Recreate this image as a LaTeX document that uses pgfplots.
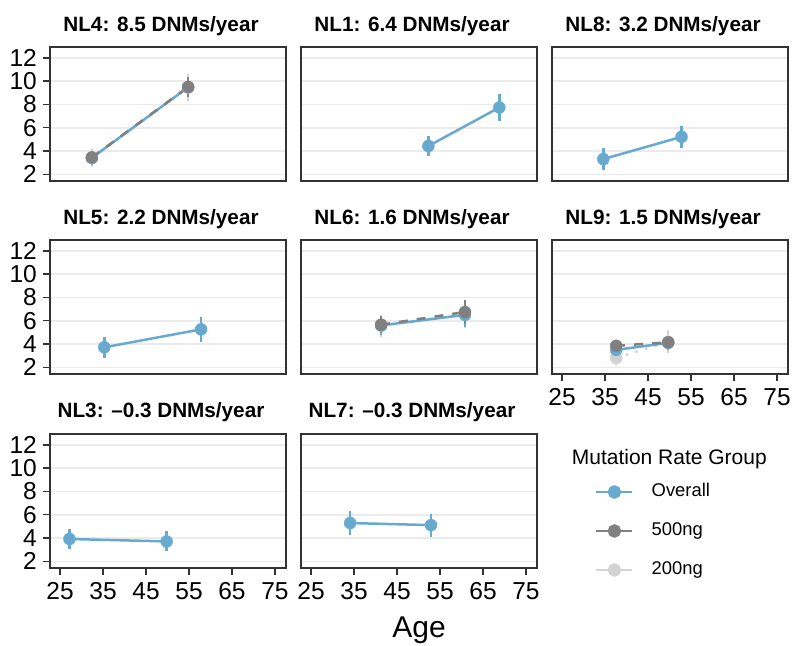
\documentclass[border=0pt]{standalone}
\usepackage{pgfplots}
\pgfplotsset{compat=1.18}
\usepackage{fontspec}
\setmainfont{Liberation Sans}
\definecolor{ovc}{RGB}{103,169,207}
\definecolor{g5}{RGB}{128,128,128}
\definecolor{g2}{RGB}{211,211,211}
\definecolor{frame}{RGB}{51,51,51}
\definecolor{gridc}{RGB}{235,235,235}
\pgfplotsset{
  panel/.style={scale only axis, width=236pt, height=134pt,
    xmin=22.67, xmax=77.56, ymin=1.43, ymax=12.93,
    axis line style={draw=frame, line width=1.5pt},
    xtick=\empty, ytick={2,4,6,8,10,12}, yticklabels={},
    ymajorgrids, grid style={draw=gridc, line width=1.6pt},
    ytick style={draw=none},
    xtick pos=bottom, ytick pos=left,
    major tick length=7pt, tick align=outside,
    tick label style={font=\fontsize{24.5}{28}\selectfont, inner sep=0pt},
    /pgf/number format/assume math mode=true,
    clip=false},
  showy/.style={yticklabels={2,4,6,8,10,12}, ytick style={draw=frame, line width=1.4pt},
    yticklabel style={xshift=-6pt}},
  showx/.style={xtick={25,35,45,55,65,75}, xtick style={draw=frame, line width=1.4pt},
    xticklabel style={yshift=-7pt}},
  ovl/.style={color=ovc, line width=2.5pt, no marks},
  g5l/.style={color=g5, line width=2.5pt, no marks, dash pattern=on 9pt off 9pt},
  g2l/.style={color=g2, line width=2.5pt, no marks, dash pattern=on 2.5pt off 7.5pt},
  ovp/.style={only marks, mark=*, mark size=6pt, color=ovc,
    error bars/y dir=both, error bars/y explicit, error bars/error mark=none,
    error bars/error bar style={line width=2.5pt, color=ovc}},
  g5p/.style={only marks, mark=*, mark size=6pt, color=g5,
    error bars/y dir=both, error bars/y explicit, error bars/error mark=none,
    error bars/error bar style={line width=2.5pt, color=g5}},
  g2p/.style={only marks, mark=*, mark size=6pt, color=g2,
    error bars/y dir=both, error bars/y explicit, error bars/error mark=none,
    error bars/error bar style={line width=2.5pt, color=g2}},
}
\newcommand{\ftitle}[3]{\node[anchor=base, font=\bfseries\fontsize{20.7}{24}\selectfont] at (#1pt,#2pt) {#3};}
\begin{document}
\begin{tikzpicture}
\path[use as bounding box] (0,0) rectangle (794pt,645pt);
% Row 1
\begin{axis}[panel, showy, at={(50pt,464pt)}, anchor=south west]
\addplot[g2l] coordinates {(32.4,3.40) (54.8,9.45)};
\addplot[ovl] coordinates {(32.4,3.42) (54.8,9.47)};
\addplot[g5l] coordinates {(32.4,3.45) (54.8,9.50)};
\addplot[g2p] coordinates {(32.4,3.40) +- (0,0.80) (54.8,9.45) +- (0,1.12)};
\addplot[ovp] coordinates {(32.4,3.42) +- (0,0.60) (54.8,9.47) +- (0,0.80)};
\addplot[g5p] coordinates {(32.4,3.45) +- (0,0.55) (54.8,9.50) +- (0,0.85)};
\end{axis}
\begin{axis}[panel, at={(301pt,464pt)}, anchor=south west]
\addplot[ovl] coordinates {(52.3,4.43) (68.8,7.74)};
\addplot[ovp] coordinates {(52.3,4.43) +- (0,0.86) (68.8,7.74) +- (0,1.13)};
\end{axis}
\begin{axis}[panel, at={(552pt,464pt)}, anchor=south west]
\addplot[ovl] coordinates {(34.6,3.31) (52.8,5.22)};
\addplot[ovp] coordinates {(34.6,3.31) +- (0,0.91) (52.8,5.22) +- (0,0.97)};
\end{axis}
% Row 2
\begin{axis}[panel, showy, at={(50pt,271pt)}, anchor=south west]
\addplot[ovl] coordinates {(35.3,3.72) (57.8,5.26)};
\addplot[ovp] coordinates {(35.3,3.72) +- (0,0.89) (57.8,5.26) +- (0,1.07)};
\end{axis}
\begin{axis}[panel, at={(301pt,271pt)}, anchor=south west]
\addplot[g2l] coordinates {(41.3,5.55) (60.8,6.60)};
\addplot[ovl] coordinates {(41.3,5.60) (60.8,6.50)};
\addplot[g5l] coordinates {(41.3,5.66) (60.8,6.75)};
\addplot[g2p] coordinates {(41.3,5.55) +- (0,0.95) (60.8,6.60) +- (0,1.20)};
\addplot[ovp] coordinates {(41.3,5.60) +- (0,0.85) (60.8,6.50) +- (0,1.00)};
\addplot[g5p] coordinates {(41.3,5.66) +- (0,0.75) (60.8,6.75) +- (0,1.00)};
\end{axis}
\begin{axis}[panel, showx, at={(552pt,271pt)}, anchor=south west]
\addplot[g2l] coordinates {(37.6,2.80) (49.7,4.20)};
\addplot[ovl] coordinates {(37.6,3.50) (49.7,4.10)};
\addplot[g5l] coordinates {(37.6,3.85) (49.7,4.15)};
\addplot[g2p] coordinates {(37.6,2.80) +- (0,0.60) (49.7,4.20) +- (0,1.00)};
\addplot[ovp] coordinates {(37.6,3.50) +- (0,0.60) (49.7,4.10) +- (0,0.60)};
\addplot[g5p] coordinates {(37.6,3.85) +- (0,0.50) (49.7,4.15) +- (0,0.55)};
\end{axis}
% Row 3
\begin{axis}[panel, showy, showx, at={(50pt,77pt)}, anchor=south west]
\addplot[ovl] coordinates {(27.2,3.92) (49.8,3.71)};
\addplot[ovp] coordinates {(27.2,3.92) +- (0,0.83) (49.8,3.71) +- (0,0.86)};
\end{axis}
\begin{axis}[panel, showx, at={(301pt,77pt)}, anchor=south west,
  legend cell align=left,
  legend style={at={(axis description cs:1.233,0.647)}, anchor=north west, draw=none, fill=none,
    font=\fontsize{18.4}{22}\selectfont,
    nodes={inner sep=0pt, text height=13pt, text depth=4pt},
    row sep=22pt, /tikz/every odd column/.append style={column sep=18pt}},
  legend image code/.code={\draw[mark repeat=2, mark phase=2, #1] plot coordinates {(0pt,0pt) (18pt,0pt) (36pt,0pt)};}]
\addlegendimage{ovc, line width=2.5pt, mark=*, mark size=5.5pt}
\addlegendentry{Overall}
\addlegendimage{g5, line width=2.5pt, mark=*, mark size=5.5pt}
\addlegendentry{500ng}
\addlegendimage{g2, line width=2.5pt, mark=*, mark size=5.5pt}
\addlegendentry{200ng}
\addplot[ovl, forget plot] coordinates {(34.1,5.29) (52.9,5.11)};
\addplot[ovp, forget plot] coordinates {(34.1,5.29) +- (0,0.99) (52.9,5.11) +- (0,0.99)};
\end{axis}
% titles
\ftitle{161}{613}{NL4: 8.5 DNMs/year}
\ftitle{412}{613}{NL1: 6.4 DNMs/year}
\ftitle{663}{613}{NL8: 3.2 DNMs/year}
\ftitle{161}{420}{NL5: 2.2 DNMs/year}
\ftitle{412}{420}{NL6: 1.6 DNMs/year}
\ftitle{663}{420}{NL9: 1.5 DNMs/year}
\ftitle{161}{227}{NL3: \textendash0.3 DNMs/year}
\ftitle{412}{227}{NL7: \textendash0.3 DNMs/year}
\node[anchor=base west, font=\fontsize{21}{25}\selectfont] at (568.3pt,180pt) {Mutation Rate Group};
\node[anchor=base, font=\fontsize{30}{36}\selectfont] at (419pt,8pt) {Age};
\end{tikzpicture}
\end{document}
